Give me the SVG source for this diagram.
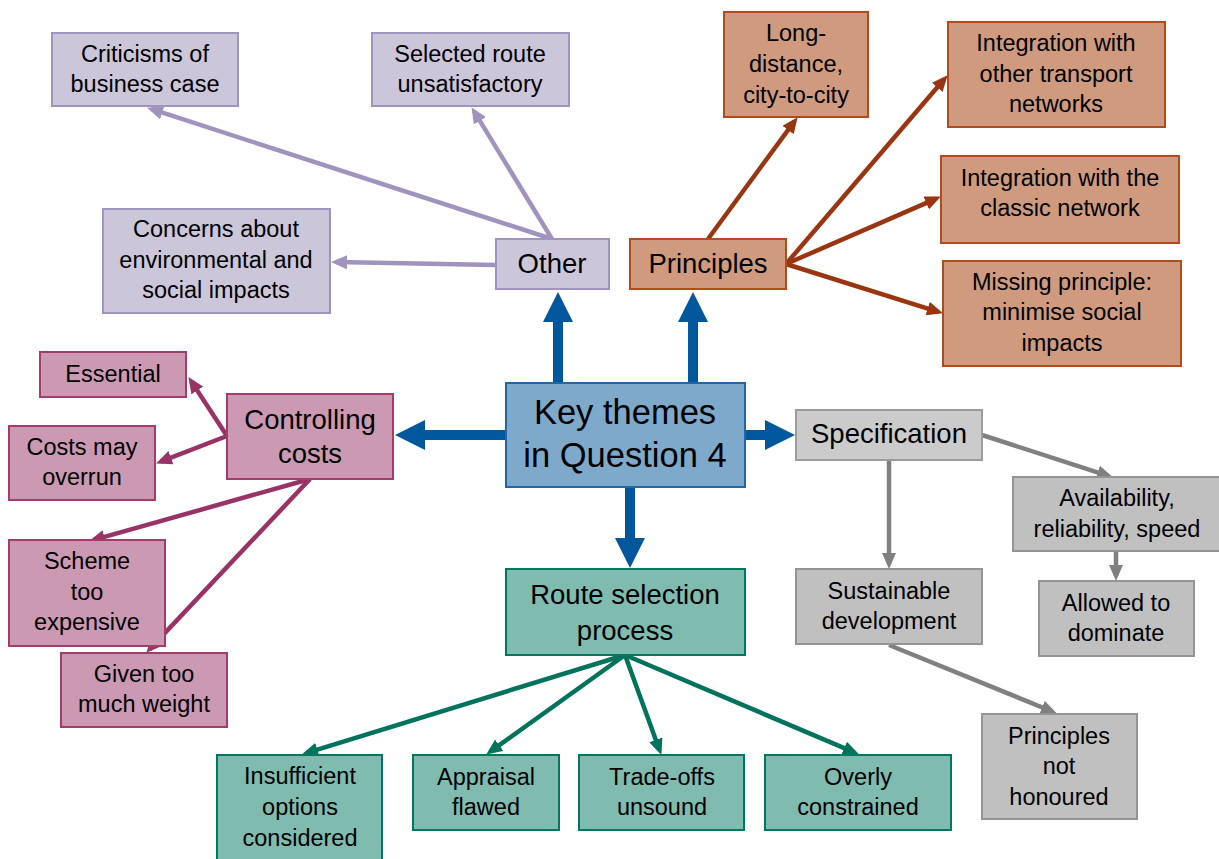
<svg xmlns="http://www.w3.org/2000/svg" width="1219" height="859" viewBox="0 0 1219 859">
<style>
text{font-family:"Liberation Sans",Arial,sans-serif;fill:#000;text-anchor:middle}
.s{font-size:23.5px}
.m{font-size:27.5px}
.l{font-size:34.5px}
.oth rect{fill:#ccc6da;stroke:#a093bd;stroke-width:2}
.pri rect{fill:#cf9a7e;stroke:#b34a1c;stroke-width:2}
.cc rect{fill:#cc99b3;stroke:#a33b6c;stroke-width:2}
.sp rect{fill:#c0c0c0;stroke:#949494;stroke-width:2}
.sp0 rect{fill:#cbcbcb;stroke:#9c9c9c;stroke-width:2}
.rt rect{fill:#80bbb0;stroke:#00775f;stroke-width:2}
.key rect{fill:#7fa9ca;stroke:#1d69a8;stroke-width:2}
.c{fill:none;stroke-width:4.5}
.co{stroke:#a093bd;marker-end:url(#ao)}
.cp{stroke:#993510;marker-end:url(#ap)}
.ccc{stroke:#993366;marker-end:url(#ac)}
.cs{stroke:#808080;marker-end:url(#as)}
.cr{stroke:#00735c;marker-end:url(#ar)}
.cb{fill:none;stroke:#00579b;stroke-width:10;marker-end:url(#ab)}
</style>
<defs>
<marker id="ao" markerUnits="userSpaceOnUse" markerWidth="16" markerHeight="14" refX="11" refY="7" orient="auto"><path d="M0,0 L16,7 L0,14 z" fill="#a093bd"/></marker>
<marker id="ap" markerUnits="userSpaceOnUse" markerWidth="16" markerHeight="14" refX="11" refY="7" orient="auto"><path d="M0,0 L16,7 L0,14 z" fill="#993510"/></marker>
<marker id="ac" markerUnits="userSpaceOnUse" markerWidth="16" markerHeight="14" refX="11" refY="7" orient="auto"><path d="M0,0 L16,7 L0,14 z" fill="#993366"/></marker>
<marker id="as" markerUnits="userSpaceOnUse" markerWidth="16" markerHeight="14" refX="11" refY="7" orient="auto"><path d="M0,0 L16,7 L0,14 z" fill="#808080"/></marker>
<marker id="ar" markerUnits="userSpaceOnUse" markerWidth="16" markerHeight="14" refX="11" refY="7" orient="auto"><path d="M0,0 L16,7 L0,14 z" fill="#00735c"/></marker>
<marker id="ab" markerUnits="userSpaceOnUse" markerWidth="30" markerHeight="30" refX="20" refY="15" orient="auto"><path d="M0,0 L30,15 L0,30 z" fill="#00579b"/></marker>
</defs>

<g id="connectors">
<line class="c co" x1="552" y1="239" x2="151.8" y2="109.2"/>
<line class="c co" x1="552" y1="239" x2="474.1" y2="111.4"/>
<line class="c co" x1="496" y1="265" x2="336" y2="262.1"/>
<line class="c cp" x1="708" y1="239" x2="794.6" y2="121.2"/>
<line class="c cp" x1="786" y1="264" x2="944.4" y2="79"/>
<line class="c cp" x1="786" y1="264" x2="936.3" y2="198.6"/>
<line class="c cp" x1="786" y1="264" x2="938.2" y2="311.8"/>
<line class="c ccc" x1="227" y1="436" x2="191.2" y2="381.3"/>
<line class="c ccc" x1="227" y1="436" x2="160.7" y2="461.6"/>
<line class="c ccc" x1="310" y1="479" x2="93.8" y2="539.9"/>
<line class="c ccc" x1="310" y1="479" x2="149.7" y2="649.1"/>
<line class="c cs" x1="982" y1="435" x2="1108.2" y2="475.8"/>
<line class="c cs" x1="889" y1="460" x2="889" y2="564"/>
<line class="c cs" x1="1116" y1="551" x2="1116" y2="576"/>
<line class="c cs" x1="889" y1="645" x2="1052.3" y2="711.5"/>
<line class="c cr" x1="625" y1="655" x2="306.8" y2="752.8"/>
<line class="c cr" x1="625" y1="655" x2="490.3" y2="751.7"/>
<line class="c cr" x1="625" y1="655" x2="659.6" y2="750.2"/>
<line class="c cr" x1="625" y1="655" x2="854.3" y2="752.4"/>
<line class="cb" x1="558" y1="383" x2="558" y2="302"/>
<line class="cb" x1="693" y1="383" x2="693" y2="302"/>
<line class="cb" x1="745" y1="435" x2="785" y2="435"/>
<line class="cb" x1="506" y1="435" x2="405" y2="435"/>
<line class="cb" x1="630" y1="487" x2="630" y2="558"/>
</g>

<g id="n-criticisms" class="oth"><rect x="52" y="33" width="186" height="73"/><text class="s" x="145" y="62">Criticisms of</text><text class="s" x="145" y="92">business case</text></g>
<g id="n-selected" class="oth"><rect x="372" y="33" width="197" height="73"/><text class="s" x="470" y="62">Selected route</text><text class="s" x="470" y="92">unsatisfactory</text></g>
<g id="n-concerns" class="oth"><rect x="103" y="209" width="227" height="104"/><text class="s" x="216" y="237">Concerns about</text><text class="s" x="216" y="268">environmental and</text><text class="s" x="216" y="298">social impacts</text></g>
<g id="n-other" class="oth"><rect x="496" y="239" width="113" height="50"/><text class="m" x="552" y="273">Other</text></g>

<g id="n-long" class="pri"><rect x="724" y="12" width="144" height="105"/><text class="s" x="796" y="41">Long-</text><text class="s" x="796" y="72">distance,</text><text class="s" x="796" y="103">city-to-city</text></g>
<g id="n-intother" class="pri"><rect x="948" y="22" width="217" height="105"/><text class="s" x="1056" y="51">Integration with</text><text class="s" x="1056" y="82">other transport</text><text class="s" x="1056" y="112">networks</text></g>
<g id="n-principles" class="pri"><rect x="630" y="239" width="156" height="50"/><text class="m" x="708" y="273">Principles</text></g>
<g id="n-classic" class="pri"><rect x="941" y="156" width="238" height="87"/><text class="s" x="1060" y="186">Integration with the</text><text class="s" x="1060" y="216">classic network</text></g>
<g id="n-missing" class="pri"><rect x="943" y="261" width="238" height="105"/><text class="s" x="1062" y="290">Missing principle:</text><text class="s" x="1062" y="320">minimise social</text><text class="s" x="1062" y="351">impacts</text></g>

<g id="n-essential" class="cc"><rect x="40" y="352" width="146" height="45"/><text class="s" x="113" y="382">Essential</text></g>
<g id="n-controlling" class="cc"><rect x="227" y="394" width="166" height="85"/><text class="m" x="310" y="429">Controlling</text><text class="m" x="310" y="463">costs</text></g>
<g id="n-overrun" class="cc"><rect x="9" y="426" width="146" height="74"/><text class="s" x="82" y="455">Costs may</text><text class="s" x="82" y="485">overrun</text></g>
<g id="n-scheme" class="cc"><rect x="9" y="540" width="156" height="106"/><text class="s" x="87" y="569">Scheme</text><text class="s" x="87" y="600">too</text><text class="s" x="87" y="630">expensive</text></g>
<g id="n-given" class="cc"><rect x="61" y="653" width="166" height="74"/><text class="s" x="144" y="682">Given too</text><text class="s" x="144" y="712">much weight</text></g>

<g id="n-key" class="key"><rect x="506" y="383" width="239" height="104"/><text class="l" x="625" y="424">Key themes</text><text class="l" x="625" y="467">in Question 4</text></g>

<g id="n-spec" class="sp0"><rect x="796" y="410" width="186" height="50"/><text class="m" x="889" y="443">Specification</text></g>
<g id="n-avail" class="sp"><rect x="1013" y="477" width="210" height="74"/><text class="s" x="1117" y="506">Availability,</text><text class="s" x="1117" y="537">reliability, speed</text></g>
<g id="n-allowed" class="sp"><rect x="1039" y="581" width="155" height="75"/><text class="s" x="1116" y="611">Allowed to</text><text class="s" x="1116" y="641">dominate</text></g>
<g id="n-sustainable" class="sp"><rect x="796" y="569" width="186" height="75"/><text class="s" x="889" y="599">Sustainable</text><text class="s" x="889" y="629">development</text></g>
<g id="n-notHonoured" class="sp"><rect x="982" y="714" width="155" height="105"/><text class="s" x="1059" y="744">Principles</text><text class="s" x="1059" y="774">not</text><text class="s" x="1059" y="805">honoured</text></g>

<g id="n-route" class="rt"><rect x="506" y="569" width="239" height="86"/><text class="m" x="625" y="604">Route selection</text><text class="m" x="625" y="640">process</text></g>
<g id="n-insufficient" class="rt"><rect x="217" y="755" width="165" height="110"/><text class="s" x="300" y="784">Insufficient</text><text class="s" x="300" y="815">options</text><text class="s" x="300" y="846">considered</text></g>
<g id="n-appraisal" class="rt"><rect x="413" y="755" width="146" height="75"/><text class="s" x="486" y="785">Appraisal</text><text class="s" x="486" y="815">flawed</text></g>
<g id="n-tradeoffs" class="rt"><rect x="579" y="755" width="165" height="75"/><text class="s" x="662" y="785">Trade-offs</text><text class="s" x="662" y="815">unsound</text></g>
<g id="n-overly" class="rt"><rect x="765" y="755" width="186" height="75"/><text class="s" x="858" y="785">Overly</text><text class="s" x="858" y="815">constrained</text></g>
</svg>
